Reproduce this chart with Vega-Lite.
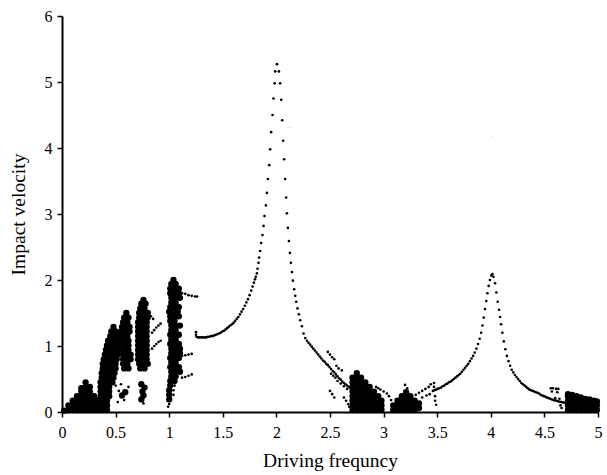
{
  "$schema": "https://vega.github.io/schema/vega-lite/v6.json",
  "width": 536,
  "height": 396,
  "autosize": {"type": "none"},
  "padding": {"left": 62, "top": 16, "right": 9, "bottom": 63},
  "background": "white",
  "config": {"view": {"stroke": null}},
  "data": {"values": [
    {"f":0.02,"v":0.02,"k":"c"},
    {"f":0.06,"v":0.03,"k":"c"},{"f":0.06,"v":0.10,"k":"c"},
    {"f":0.10,"v":0.03,"k":"c"},{"f":0.10,"v":0.10,"k":"c"},{"f":0.10,"v":0.17,"k":"c"},
    {"f":0.14,"v":0.03,"k":"c"},{"f":0.14,"v":0.10,"k":"c"},{"f":0.14,"v":0.17,"k":"c"},{"f":0.14,"v":0.24,"k":"c"},
    {"f":0.18,"v":0.03,"k":"c"},{"f":0.18,"v":0.10,"k":"c"},{"f":0.18,"v":0.17,"k":"c"},{"f":0.18,"v":0.24,"k":"c"},{"f":0.18,"v":0.31,"k":"c"},{"f":0.18,"v":0.36,"k":"c"},
    {"f":0.22,"v":0.03,"k":"c"},{"f":0.22,"v":0.10,"k":"c"},{"f":0.22,"v":0.17,"k":"c"},{"f":0.22,"v":0.24,"k":"c"},{"f":0.22,"v":0.31,"k":"c"},{"f":0.22,"v":0.38,"k":"c"},{"f":0.22,"v":0.45,"k":"c"},
    {"f":0.26,"v":0.03,"k":"c"},{"f":0.26,"v":0.10,"k":"c"},{"f":0.26,"v":0.17,"k":"c"},{"f":0.26,"v":0.24,"k":"c"},{"f":0.26,"v":0.31,"k":"c"},{"f":0.26,"v":0.38,"k":"c"},
    {"f":0.30,"v":0.03,"k":"c"},{"f":0.30,"v":0.10,"k":"c"},{"f":0.30,"v":0.17,"k":"c"},{"f":0.30,"v":0.24,"k":"c"},
    {"f":0.34,"v":0.03,"k":"c"},{"f":0.34,"v":0.10,"k":"c"},{"f":0.34,"v":0.17,"k":"c"},
    {"f":0.38,"v":0.03,"k":"c"},{"f":0.38,"v":0.08,"k":"c"},

    {"f":0.42,"v":0.03,"k":"c"},{"f":0.38,"v":0.10,"k":"c"},{"f":0.42,"v":0.10,"k":"c"},
    {"f":0.38,"v":0.17,"k":"c"},{"f":0.42,"v":0.17,"k":"c"},
    {"f":0.36,"v":0.24,"k":"c"},{"f":0.40,"v":0.24,"k":"c"},{"f":0.44,"v":0.24,"k":"c"},
    {"f":0.36,"v":0.31,"k":"c"},{"f":0.40,"v":0.31,"k":"c"},{"f":0.44,"v":0.31,"k":"c"},
    {"f":0.36,"v":0.38,"k":"c"},{"f":0.40,"v":0.38,"k":"c"},{"f":0.44,"v":0.38,"k":"c"},
    {"f":0.36,"v":0.45,"k":"c"},{"f":0.40,"v":0.45,"k":"c"},{"f":0.44,"v":0.45,"k":"c"},{"f":0.47,"v":0.45,"k":"c"},
    {"f":0.37,"v":0.52,"k":"c"},{"f":0.41,"v":0.52,"k":"c"},{"f":0.45,"v":0.52,"k":"c"},{"f":0.48,"v":0.52,"k":"c"},
    {"f":0.37,"v":0.59,"k":"c"},{"f":0.41,"v":0.59,"k":"c"},{"f":0.45,"v":0.59,"k":"c"},{"f":0.49,"v":0.59,"k":"c"},
    {"f":0.38,"v":0.66,"k":"c"},{"f":0.42,"v":0.66,"k":"c"},{"f":0.46,"v":0.66,"k":"c"},{"f":0.50,"v":0.66,"k":"c"},
    {"f":0.38,"v":0.73,"k":"c"},{"f":0.42,"v":0.73,"k":"c"},{"f":0.46,"v":0.73,"k":"c"},{"f":0.50,"v":0.73,"k":"c"},
    {"f":0.39,"v":0.80,"k":"c"},{"f":0.43,"v":0.80,"k":"c"},{"f":0.47,"v":0.80,"k":"c"},{"f":0.51,"v":0.80,"k":"c"},
    {"f":0.40,"v":0.87,"k":"c"},{"f":0.44,"v":0.87,"k":"c"},{"f":0.48,"v":0.87,"k":"c"},{"f":0.52,"v":0.87,"k":"c"},
    {"f":0.41,"v":0.94,"k":"c"},{"f":0.45,"v":0.94,"k":"c"},{"f":0.49,"v":0.94,"k":"c"},{"f":0.53,"v":0.94,"k":"c"},
    {"f":0.42,"v":1.01,"k":"c"},{"f":0.46,"v":1.01,"k":"c"},{"f":0.50,"v":1.01,"k":"c"},{"f":0.54,"v":1.01,"k":"c"},
    {"f":0.43,"v":1.08,"k":"c"},{"f":0.47,"v":1.08,"k":"c"},{"f":0.51,"v":1.08,"k":"c"},{"f":0.55,"v":1.08,"k":"c"},
    {"f":0.45,"v":1.15,"k":"c"},{"f":0.49,"v":1.15,"k":"c"},{"f":0.53,"v":1.15,"k":"c"},
    {"f":0.46,"v":1.22,"k":"c"},{"f":0.50,"v":1.22,"k":"c"},
    {"f":0.48,"v":1.29,"k":"c"},

    {"f":0.58,"v":0.66,"k":"c"},{"f":0.62,"v":0.66,"k":"c"},
    {"f":0.57,"v":0.73,"k":"c"},{"f":0.61,"v":0.73,"k":"c"},
    {"f":0.57,"v":0.80,"k":"c"},{"f":0.61,"v":0.80,"k":"c"},{"f":0.64,"v":0.80,"k":"c"},
    {"f":0.57,"v":0.87,"k":"c"},{"f":0.61,"v":0.87,"k":"c"},{"f":0.64,"v":0.87,"k":"c"},
    {"f":0.58,"v":0.94,"k":"c"},{"f":0.62,"v":0.94,"k":"c"},
    {"f":0.58,"v":1.01,"k":"c"},{"f":0.62,"v":1.01,"k":"c"},
    {"f":0.58,"v":1.08,"k":"c"},{"f":0.62,"v":1.08,"k":"c"},
    {"f":0.57,"v":1.15,"k":"c"},{"f":0.61,"v":1.15,"k":"c"},
    {"f":0.55,"v":1.22,"k":"c"},{"f":0.59,"v":1.22,"k":"c"},{"f":0.63,"v":1.22,"k":"c"},
    {"f":0.56,"v":1.29,"k":"c"},{"f":0.60,"v":1.29,"k":"c"},{"f":0.63,"v":1.29,"k":"c"},
    {"f":0.57,"v":1.36,"k":"c"},{"f":0.61,"v":1.36,"k":"c"},
    {"f":0.58,"v":1.43,"k":"c"},{"f":0.62,"v":1.43,"k":"c"},
    {"f":0.60,"v":1.50,"k":"c"},

    {"f":0.50,"v":0.40,"k":"p"},{"f":0.53,"v":0.32,"k":"p"},{"f":0.56,"v":0.25,"k":"c"},{"f":0.59,"v":0.30,"k":"c"},{"f":0.58,"v":0.18,"k":"p"},{"f":0.52,"v":0.15,"k":"p"},{"f":0.62,"v":0.38,"k":"p"},{"f":0.55,"v":0.42,"k":"p"},
    {"f":0.74,"v":0.42,"k":"c"},{"f":0.77,"v":0.37,"k":"c"},{"f":0.75,"v":0.31,"k":"c"},{"f":0.76,"v":0.25,"k":"c"},{"f":0.74,"v":0.19,"k":"c"},{"f":0.76,"v":0.13,"k":"p"},

    {"f":0.73,"v":0.66,"k":"c"},{"f":0.77,"v":0.66,"k":"c"},
    {"f":0.72,"v":0.73,"k":"c"},{"f":0.76,"v":0.73,"k":"c"},{"f":0.80,"v":0.73,"k":"c"},
    {"f":0.71,"v":0.80,"k":"c"},{"f":0.75,"v":0.80,"k":"c"},{"f":0.79,"v":0.80,"k":"c"},
    {"f":0.71,"v":0.87,"k":"c"},{"f":0.75,"v":0.87,"k":"c"},{"f":0.79,"v":0.87,"k":"c"},
    {"f":0.71,"v":0.94,"k":"c"},{"f":0.75,"v":0.94,"k":"c"},{"f":0.79,"v":0.94,"k":"c"},
    {"f":0.71,"v":1.01,"k":"c"},{"f":0.75,"v":1.01,"k":"c"},{"f":0.79,"v":1.01,"k":"c"},
    {"f":0.71,"v":1.08,"k":"c"},{"f":0.75,"v":1.08,"k":"c"},{"f":0.79,"v":1.08,"k":"c"},
    {"f":0.71,"v":1.15,"k":"c"},{"f":0.75,"v":1.15,"k":"c"},{"f":0.79,"v":1.15,"k":"c"},
    {"f":0.71,"v":1.22,"k":"c"},{"f":0.75,"v":1.22,"k":"c"},{"f":0.79,"v":1.22,"k":"c"},
    {"f":0.71,"v":1.29,"k":"c"},{"f":0.75,"v":1.29,"k":"c"},{"f":0.79,"v":1.29,"k":"c"},
    {"f":0.71,"v":1.36,"k":"c"},{"f":0.75,"v":1.36,"k":"c"},{"f":0.79,"v":1.36,"k":"c"},
    {"f":0.72,"v":1.43,"k":"c"},{"f":0.76,"v":1.43,"k":"c"},{"f":0.80,"v":1.43,"k":"c"},
    {"f":0.72,"v":1.50,"k":"c"},{"f":0.76,"v":1.50,"k":"c"},{"f":0.80,"v":1.50,"k":"c"},
    {"f":0.73,"v":1.57,"k":"c"},{"f":0.77,"v":1.57,"k":"c"},
    {"f":0.74,"v":1.64,"k":"c"},{"f":0.78,"v":1.64,"k":"c"},
    {"f":0.76,"v":1.70,"k":"c"},

    {"f":0.84,"v":1.20,"k":"p"},{"f":0.86,"v":1.24,"k":"p"},{"f":0.88,"v":1.28,"k":"p"},{"f":0.90,"v":1.31,"k":"p"},{"f":0.92,"v":1.34,"k":"p"},
    {"f":0.84,"v":0.96,"k":"p"},{"f":0.86,"v":1.00,"k":"p"},{"f":0.88,"v":1.03,"k":"p"},{"f":0.90,"v":1.06,"k":"p"},{"f":0.92,"v":1.08,"k":"p"},
    {"f":0.83,"v":1.45,"k":"p"},{"f":0.85,"v":1.41,"k":"p"},

    {"f":1.04,"v":2.00,"k":"c"},
    {"f":1.02,"v":1.94,"k":"c"},{"f":1.06,"v":1.94,"k":"c"},
    {"f":1.01,"v":1.87,"k":"c"},{"f":1.05,"v":1.87,"k":"c"},{"f":1.09,"v":1.87,"k":"c"},
    {"f":1.01,"v":1.80,"k":"c"},{"f":1.05,"v":1.80,"k":"c"},{"f":1.09,"v":1.80,"k":"c"},
    {"f":1.02,"v":1.73,"k":"c"},{"f":1.06,"v":1.73,"k":"c"},{"f":1.10,"v":1.73,"k":"c"},
    {"f":1.02,"v":1.66,"k":"c"},{"f":1.06,"v":1.66,"k":"c"},
    {"f":1.01,"v":1.59,"k":"c"},{"f":1.05,"v":1.59,"k":"c"},{"f":1.09,"v":1.59,"k":"c"},
    {"f":1.00,"v":1.52,"k":"c"},{"f":1.04,"v":1.52,"k":"c"},{"f":1.08,"v":1.52,"k":"c"},
    {"f":1.01,"v":1.45,"k":"c"},{"f":1.05,"v":1.45,"k":"c"},{"f":1.09,"v":1.45,"k":"c"},
    {"f":1.01,"v":1.38,"k":"c"},{"f":1.05,"v":1.38,"k":"c"},
    {"f":1.02,"v":1.31,"k":"c"},{"f":1.06,"v":1.31,"k":"c"},{"f":1.10,"v":1.31,"k":"c"},
    {"f":1.02,"v":1.24,"k":"c"},{"f":1.06,"v":1.24,"k":"c"},
    {"f":1.01,"v":1.17,"k":"c"},{"f":1.05,"v":1.17,"k":"c"},{"f":1.09,"v":1.17,"k":"c"},
    {"f":1.02,"v":1.10,"k":"c"},{"f":1.06,"v":1.10,"k":"c"},
    {"f":1.01,"v":1.03,"k":"c"},{"f":1.05,"v":1.03,"k":"c"},{"f":1.09,"v":1.03,"k":"c"},
    {"f":1.02,"v":0.96,"k":"c"},{"f":1.06,"v":0.96,"k":"c"},{"f":1.10,"v":0.96,"k":"c"},
    {"f":1.02,"v":0.89,"k":"c"},{"f":1.06,"v":0.89,"k":"c"},{"f":1.10,"v":0.89,"k":"c"},
    {"f":1.01,"v":0.82,"k":"c"},{"f":1.05,"v":0.82,"k":"c"},{"f":1.09,"v":0.82,"k":"c"},
    {"f":1.02,"v":0.75,"k":"c"},{"f":1.06,"v":0.75,"k":"c"},
    {"f":1.01,"v":0.68,"k":"c"},{"f":1.05,"v":0.68,"k":"c"},{"f":1.09,"v":0.68,"k":"c"},
    {"f":1.02,"v":0.61,"k":"c"},{"f":1.06,"v":0.61,"k":"c"},{"f":1.10,"v":0.61,"k":"c"},
    {"f":1.02,"v":0.54,"k":"c"},{"f":1.06,"v":0.54,"k":"c"},
    {"f":1.01,"v":0.47,"k":"c"},{"f":1.05,"v":0.47,"k":"c"},
    {"f":1.01,"v":0.40,"k":"c"},{"f":1.05,"v":0.40,"k":"p"},
    {"f":1.00,"v":0.33,"k":"c"},{"f":1.04,"v":0.33,"k":"p"},
    {"f":1.00,"v":0.26,"k":"c"},{"f":1.04,"v":0.26,"k":"p"},
    {"f":1.00,"v":0.19,"k":"c"},
    {"f":1.00,"v":0.12,"k":"p"},{"f":0.99,"v":0.08,"k":"p"},
    {"f":1.12,"v":1.80,"k":"p"},{"f":1.15,"v":1.79,"k":"p"},{"f":1.18,"v":1.77,"k":"p"},{"f":1.21,"v":1.76,"k":"p"},{"f":1.24,"v":1.75,"k":"p"},{"f":1.26,"v":1.75,"k":"p"},
    {"f":1.12,"v":0.85,"k":"p"},{"f":1.15,"v":0.86,"k":"p"},{"f":1.18,"v":0.87,"k":"p"},{"f":1.21,"v":0.88,"k":"p"},
    {"f":1.12,"v":0.52,"k":"p"},{"f":1.15,"v":0.53,"k":"p"},{"f":1.18,"v":0.55,"k":"p"},{"f":1.21,"v":0.57,"k":"p"},

    {"f":1.250,"v":1.21,"k":"p"},{"f":1.250,"v":1.17,"k":"p"},{"f":1.255,"v":1.14,"k":"p"},{"f":1.270,"v":1.13,"k":"p"},{"f":1.285,"v":1.13,"k":"p"},{"f":1.300,"v":1.13,"k":"p"},{"f":1.315,"v":1.13,"k":"p"},{"f":1.330,"v":1.13,"k":"p"},{"f":1.345,"v":1.13,"k":"p"},{"f":1.360,"v":1.14,"k":"p"},{"f":1.375,"v":1.14,"k":"p"},{"f":1.390,"v":1.15,"k":"p"},{"f":1.405,"v":1.15,"k":"p"},{"f":1.420,"v":1.16,"k":"p"},{"f":1.435,"v":1.17,"k":"p"},{"f":1.450,"v":1.18,"k":"p"},{"f":1.465,"v":1.19,"k":"p"},{"f":1.480,"v":1.20,"k":"p"},{"f":1.495,"v":1.22,"k":"p"},{"f":1.510,"v":1.23,"k":"p"},{"f":1.525,"v":1.25,"k":"p"},{"f":1.540,"v":1.27,"k":"p"},{"f":1.555,"v":1.29,"k":"p"},{"f":1.570,"v":1.31,"k":"p"},{"f":1.585,"v":1.33,"k":"p"},{"f":1.600,"v":1.35,"k":"p"},{"f":1.615,"v":1.38,"k":"p"},{"f":1.630,"v":1.41,"k":"p"},{"f":1.645,"v":1.44,"k":"p"},{"f":1.660,"v":1.48,"k":"p"},{"f":1.675,"v":1.52,"k":"p"},{"f":1.690,"v":1.56,"k":"p"},{"f":1.705,"v":1.61,"k":"p"},{"f":1.720,"v":1.66,"k":"p"},{"f":1.735,"v":1.71,"k":"p"},{"f":1.750,"v":1.77,"k":"p"},{"f":1.765,"v":1.84,"k":"p"},{"f":1.778,"v":1.90,"k":"p"},{"f":1.790,"v":1.96,"k":"p"},{"f":1.800,"v":2.01,"k":"p"},{"f":1.808,"v":2.05,"k":"p"},
    {"f":1.818,"v":2.10,"k":"p"},{"f":1.824,"v":2.17,"k":"p"},{"f":1.833,"v":2.26,"k":"p"},{"f":1.839,"v":2.34,"k":"p"},{"f":1.849,"v":2.44,"k":"p"},{"f":1.858,"v":2.56,"k":"p"},{"f":1.870,"v":2.68,"k":"p"},{"f":1.880,"v":2.82,"k":"p"},{"f":1.889,"v":2.97,"k":"p"},{"f":1.902,"v":3.13,"k":"p"},{"f":1.911,"v":3.32,"k":"p"},{"f":1.920,"v":3.53,"k":"p"},{"f":1.933,"v":3.74,"k":"p"},{"f":1.942,"v":3.98,"k":"p"},{"f":1.951,"v":4.24,"k":"p"},{"f":1.964,"v":4.50,"k":"p"},{"f":1.973,"v":4.75,"k":"p"},{"f":1.983,"v":4.98,"k":"p"},{"f":1.989,"v":5.16,"k":"p"},{"f":2.005,"v":5.27,"k":"p"},{"f":2.023,"v":5.16,"k":"p"},{"f":2.035,"v":4.98,"k":"p"},{"f":2.045,"v":4.73,"k":"p"},{"f":2.054,"v":4.42,"k":"p"},{"f":2.063,"v":4.11,"k":"p"},{"f":2.073,"v":3.83,"k":"p"},{"f":2.082,"v":3.53,"k":"p"},{"f":2.091,"v":3.25,"k":"p"},{"f":2.098,"v":3.01,"k":"p"},{"f":2.107,"v":2.79,"k":"p"},{"f":2.117,"v":2.59,"k":"p"},{"f":2.126,"v":2.41,"k":"p"},{"f":2.135,"v":2.26,"k":"p"},{"f":2.145,"v":2.12,"k":"p"},{"f":2.154,"v":1.99,"k":"p"},{"f":2.166,"v":1.86,"k":"p"},{"f":2.176,"v":1.76,"k":"p"},{"f":2.185,"v":1.67,"k":"p"},{"f":2.197,"v":1.57,"k":"p"},{"f":2.210,"v":1.48,"k":"p"},{"f":2.222,"v":1.39,"k":"p"},{"f":2.238,"v":1.30,"k":"p"},{"f":2.253,"v":1.19,"k":"p"},{"f":2.269,"v":1.12,"k":"p"},
    {"f":2.285,"v":1.08,"k":"p"},{"f":2.300,"v":1.05,"k":"p"},{"f":2.315,"v":1.02,"k":"p"},{"f":2.330,"v":0.99,"k":"p"},{"f":2.345,"v":0.96,"k":"p"},{"f":2.360,"v":0.93,"k":"p"},{"f":2.375,"v":0.90,"k":"p"},{"f":2.390,"v":0.87,"k":"p"},{"f":2.405,"v":0.84,"k":"p"},{"f":2.420,"v":0.81,"k":"p"},{"f":2.435,"v":0.78,"k":"p"},{"f":2.450,"v":0.76,"k":"p"},{"f":2.465,"v":0.73,"k":"p"},{"f":2.480,"v":0.71,"k":"p"},{"f":2.495,"v":0.68,"k":"p"},{"f":2.510,"v":0.65,"k":"p"},{"f":2.525,"v":0.62,"k":"p"},{"f":2.540,"v":0.60,"k":"p"},{"f":2.555,"v":0.57,"k":"p"},{"f":2.570,"v":0.54,"k":"p"},{"f":2.585,"v":0.51,"k":"p"},{"f":2.600,"v":0.49,"k":"p"},{"f":2.615,"v":0.46,"k":"p"},{"f":2.630,"v":0.44,"k":"p"},{"f":2.645,"v":0.42,"k":"p"},{"f":2.660,"v":0.40,"k":"p"},{"f":2.675,"v":0.38,"k":"p"},{"f":2.690,"v":0.36,"k":"p"},

    {"f":2.48,"v":0.91,"k":"p"},{"f":2.50,"v":0.87,"k":"p"},{"f":2.52,"v":0.83,"k":"p"},{"f":2.54,"v":0.80,"k":"p"},
    {"f":2.56,"v":0.70,"k":"p"},{"f":2.58,"v":0.66,"k":"p"},{"f":2.61,"v":0.63,"k":"p"},
    {"f":2.51,"v":0.58,"k":"p"},{"f":2.53,"v":0.55,"k":"p"},{"f":2.55,"v":0.52,"k":"p"},
    {"f":2.57,"v":0.47,"k":"p"},{"f":2.60,"v":0.43,"k":"p"},{"f":2.63,"v":0.39,"k":"p"},{"f":2.66,"v":0.35,"k":"p"},
    {"f":2.50,"v":0.32,"k":"p"},{"f":2.52,"v":0.27,"k":"p"},{"f":2.54,"v":0.22,"k":"p"},
    {"f":2.63,"v":0.22,"k":"p"},{"f":2.65,"v":0.17,"k":"p"},{"f":2.67,"v":0.12,"k":"p"},{"f":2.68,"v":0.08,"k":"p"},

    {"f":2.71,"v":0.03,"k":"c"},{"f":2.71,"v":0.10,"k":"c"},{"f":2.71,"v":0.17,"k":"c"},{"f":2.71,"v":0.24,"k":"c"},{"f":2.71,"v":0.31,"k":"c"},{"f":2.71,"v":0.38,"k":"c"},{"f":2.71,"v":0.45,"k":"c"},{"f":2.71,"v":0.52,"k":"c"},
    {"f":2.75,"v":0.03,"k":"c"},{"f":2.75,"v":0.10,"k":"c"},{"f":2.75,"v":0.17,"k":"c"},{"f":2.75,"v":0.24,"k":"c"},{"f":2.75,"v":0.31,"k":"c"},{"f":2.75,"v":0.38,"k":"c"},{"f":2.75,"v":0.45,"k":"c"},{"f":2.75,"v":0.52,"k":"c"},{"f":2.75,"v":0.59,"k":"c"},
    {"f":2.79,"v":0.03,"k":"c"},{"f":2.79,"v":0.10,"k":"c"},{"f":2.79,"v":0.17,"k":"c"},{"f":2.79,"v":0.24,"k":"c"},{"f":2.79,"v":0.31,"k":"c"},{"f":2.79,"v":0.38,"k":"c"},{"f":2.79,"v":0.45,"k":"c"},{"f":2.79,"v":0.52,"k":"c"},
    {"f":2.83,"v":0.03,"k":"c"},{"f":2.83,"v":0.10,"k":"c"},{"f":2.83,"v":0.17,"k":"c"},{"f":2.83,"v":0.24,"k":"c"},{"f":2.83,"v":0.31,"k":"c"},{"f":2.83,"v":0.38,"k":"c"},{"f":2.83,"v":0.45,"k":"c"},
    {"f":2.87,"v":0.03,"k":"c"},{"f":2.87,"v":0.10,"k":"c"},{"f":2.87,"v":0.17,"k":"c"},{"f":2.87,"v":0.24,"k":"c"},{"f":2.87,"v":0.31,"k":"c"},{"f":2.87,"v":0.38,"k":"c"},
    {"f":2.91,"v":0.03,"k":"c"},{"f":2.91,"v":0.10,"k":"c"},{"f":2.91,"v":0.17,"k":"c"},{"f":2.91,"v":0.24,"k":"c"},{"f":2.91,"v":0.31,"k":"c"},
    {"f":2.95,"v":0.03,"k":"c"},{"f":2.95,"v":0.10,"k":"c"},{"f":2.95,"v":0.17,"k":"c"},{"f":2.95,"v":0.24,"k":"c"},
    {"f":2.98,"v":0.03,"k":"c"},{"f":2.98,"v":0.10,"k":"c"},{"f":2.98,"v":0.17,"k":"c"},
    {"f":2.93,"v":0.38,"k":"p"},{"f":2.95,"v":0.36,"k":"p"},{"f":2.97,"v":0.34,"k":"p"},{"f":3.00,"v":0.31,"k":"p"},{"f":3.03,"v":0.28,"k":"p"},{"f":3.05,"v":0.24,"k":"p"},{"f":3.07,"v":0.18,"k":"p"},{"f":3.08,"v":0.12,"k":"p"},

    {"f":3.09,"v":0.03,"k":"c"},{"f":3.09,"v":0.10,"k":"c"},
    {"f":3.13,"v":0.03,"k":"c"},{"f":3.13,"v":0.10,"k":"c"},{"f":3.13,"v":0.17,"k":"c"},
    {"f":3.17,"v":0.03,"k":"c"},{"f":3.17,"v":0.10,"k":"c"},{"f":3.17,"v":0.17,"k":"c"},{"f":3.17,"v":0.24,"k":"c"},
    {"f":3.21,"v":0.03,"k":"c"},{"f":3.21,"v":0.10,"k":"c"},{"f":3.21,"v":0.17,"k":"c"},{"f":3.21,"v":0.24,"k":"c"},{"f":3.21,"v":0.30,"k":"c"},
    {"f":3.25,"v":0.03,"k":"c"},{"f":3.25,"v":0.10,"k":"c"},{"f":3.25,"v":0.17,"k":"c"},{"f":3.25,"v":0.24,"k":"c"},
    {"f":3.29,"v":0.03,"k":"c"},{"f":3.29,"v":0.10,"k":"c"},{"f":3.29,"v":0.17,"k":"c"},
    {"f":3.33,"v":0.06,"k":"c"},{"f":3.33,"v":0.13,"k":"c"},
    {"f":3.22,"v":0.36,"k":"p"},{"f":3.20,"v":0.41,"k":"p"},{"f":3.30,"v":0.26,"k":"p"},{"f":3.33,"v":0.29,"k":"p"},{"f":3.36,"v":0.32,"k":"p"},{"f":3.39,"v":0.35,"k":"p"},{"f":3.42,"v":0.38,"k":"p"},{"f":3.44,"v":0.42,"k":"p"},{"f":3.36,"v":0.22,"k":"p"},{"f":3.40,"v":0.25,"k":"p"},{"f":3.43,"v":0.27,"k":"p"},
    {"f":3.47,"v":0.44,"k":"p"},{"f":3.47,"v":0.38,"k":"p"},{"f":3.48,"v":0.24,"k":"p"},{"f":3.48,"v":0.17,"k":"p"},{"f":3.49,"v":0.11,"k":"p"},

    {"f":3.460,"v":0.32,"k":"p"},{"f":3.475,"v":0.33,"k":"p"},{"f":3.490,"v":0.34,"k":"p"},{"f":3.505,"v":0.35,"k":"p"},{"f":3.520,"v":0.36,"k":"p"},{"f":3.535,"v":0.37,"k":"p"},{"f":3.550,"v":0.39,"k":"p"},{"f":3.565,"v":0.40,"k":"p"},{"f":3.580,"v":0.42,"k":"p"},{"f":3.595,"v":0.43,"k":"p"},{"f":3.610,"v":0.45,"k":"p"},{"f":3.625,"v":0.46,"k":"p"},{"f":3.640,"v":0.48,"k":"p"},{"f":3.655,"v":0.50,"k":"p"},{"f":3.670,"v":0.52,"k":"p"},{"f":3.685,"v":0.54,"k":"p"},{"f":3.700,"v":0.56,"k":"p"},{"f":3.715,"v":0.58,"k":"p"},{"f":3.730,"v":0.61,"k":"p"},{"f":3.745,"v":0.64,"k":"p"},{"f":3.760,"v":0.67,"k":"p"},{"f":3.775,"v":0.70,"k":"p"},{"f":3.790,"v":0.73,"k":"p"},{"f":3.805,"v":0.77,"k":"p"},{"f":3.820,"v":0.81,"k":"p"},{"f":3.835,"v":0.85,"k":"p"},
    {"f":3.850,"v":0.90,"k":"p"},{"f":3.866,"v":0.96,"k":"p"},{"f":3.881,"v":1.03,"k":"p"},{"f":3.896,"v":1.11,"k":"p"},{"f":3.910,"v":1.20,"k":"p"},{"f":3.922,"v":1.31,"k":"p"},{"f":3.934,"v":1.43,"k":"p"},{"f":3.946,"v":1.56,"k":"p"},{"f":3.958,"v":1.68,"k":"p"},{"f":3.968,"v":1.80,"k":"p"},{"f":3.980,"v":1.91,"k":"p"},{"f":3.992,"v":2.00,"k":"p"},{"f":4.005,"v":2.07,"k":"p"},{"f":4.015,"v":2.09,"k":"p"},{"f":4.025,"v":2.05,"k":"p"},{"f":4.040,"v":1.95,"k":"p"},{"f":4.052,"v":1.81,"k":"p"},{"f":4.064,"v":1.67,"k":"p"},{"f":4.077,"v":1.55,"k":"p"},{"f":4.087,"v":1.44,"k":"p"},{"f":4.096,"v":1.33,"k":"p"},{"f":4.108,"v":1.20,"k":"p"},{"f":4.121,"v":1.07,"k":"p"},{"f":4.136,"v":0.95,"k":"p"},{"f":4.150,"v":0.85,"k":"p"},{"f":4.165,"v":0.77,"k":"p"},{"f":4.180,"v":0.70,"k":"p"},
    {"f":4.195,"v":0.64,"k":"p"},{"f":4.210,"v":0.60,"k":"p"},{"f":4.225,"v":0.56,"k":"p"},{"f":4.240,"v":0.53,"k":"p"},{"f":4.255,"v":0.50,"k":"p"},{"f":4.270,"v":0.47,"k":"p"},{"f":4.285,"v":0.44,"k":"p"},{"f":4.300,"v":0.42,"k":"p"},{"f":4.315,"v":0.40,"k":"p"},{"f":4.330,"v":0.38,"k":"p"},{"f":4.345,"v":0.36,"k":"p"},{"f":4.360,"v":0.34,"k":"p"},{"f":4.375,"v":0.33,"k":"p"},{"f":4.390,"v":0.32,"k":"p"},{"f":4.405,"v":0.31,"k":"p"},{"f":4.420,"v":0.30,"k":"p"},{"f":4.435,"v":0.29,"k":"p"},{"f":4.450,"v":0.28,"k":"p"},{"f":4.465,"v":0.26,"k":"p"},{"f":4.480,"v":0.25,"k":"p"},{"f":4.495,"v":0.24,"k":"p"},{"f":4.510,"v":0.23,"k":"p"},{"f":4.525,"v":0.22,"k":"p"},{"f":4.540,"v":0.21,"k":"p"},{"f":4.555,"v":0.20,"k":"p"},{"f":4.570,"v":0.19,"k":"p"},{"f":4.585,"v":0.18,"k":"p"},{"f":4.600,"v":0.175,"k":"p"},{"f":4.615,"v":0.17,"k":"p"},{"f":4.630,"v":0.16,"k":"p"},{"f":4.645,"v":0.155,"k":"p"},{"f":4.660,"v":0.15,"k":"p"},{"f":4.675,"v":0.145,"k":"p"},{"f":4.690,"v":0.14,"k":"p"},{"f":4.705,"v":0.135,"k":"p"},

    {"f":4.56,"v":0.36,"k":"p"},{"f":4.58,"v":0.36,"k":"p"},{"f":4.61,"v":0.35,"k":"p"},{"f":4.63,"v":0.35,"k":"p"},{"f":4.57,"v":0.31,"k":"p"},{"f":4.62,"v":0.30,"k":"p"},
    {"f":4.60,"v":0.21,"k":"p"},{"f":4.64,"v":0.20,"k":"p"},{"f":4.65,"v":0.10,"k":"p"},{"f":4.66,"v":0.06,"k":"p"},

    {"f":4.72,"v":0.03,"k":"c"},{"f":4.72,"v":0.10,"k":"c"},{"f":4.72,"v":0.17,"k":"c"},{"f":4.72,"v":0.24,"k":"c"},{"f":4.72,"v":0.27,"k":"c"},
    {"f":4.76,"v":0.03,"k":"c"},{"f":4.76,"v":0.10,"k":"c"},{"f":4.76,"v":0.17,"k":"c"},{"f":4.76,"v":0.24,"k":"c"},{"f":4.76,"v":0.26,"k":"c"},
    {"f":4.80,"v":0.03,"k":"c"},{"f":4.80,"v":0.10,"k":"c"},{"f":4.80,"v":0.17,"k":"c"},{"f":4.80,"v":0.24,"k":"c"},
    {"f":4.84,"v":0.03,"k":"c"},{"f":4.84,"v":0.10,"k":"c"},{"f":4.84,"v":0.17,"k":"c"},{"f":4.84,"v":0.22,"k":"c"},
    {"f":4.88,"v":0.03,"k":"c"},{"f":4.88,"v":0.10,"k":"c"},{"f":4.88,"v":0.17,"k":"c"},{"f":4.88,"v":0.20,"k":"c"},
    {"f":4.92,"v":0.03,"k":"c"},{"f":4.92,"v":0.10,"k":"c"},{"f":4.92,"v":0.17,"k":"c"},{"f":4.92,"v":0.19,"k":"c"},
    {"f":4.96,"v":0.03,"k":"c"},{"f":4.96,"v":0.10,"k":"c"},{"f":4.96,"v":0.17,"k":"c"},
    {"f":4.99,"v":0.03,"k":"c"},{"f":4.99,"v":0.10,"k":"c"},{"f":4.99,"v":0.16,"k":"c"},

    {"f":2.12,"v":4.31,"k":"t"},{"f":4.005,"v":4.17,"k":"t"}
  ]},
  "encoding": {
    "x": {
      "field": "f", "type": "quantitative",
      "scale": {"domain": [0, 5], "nice": false, "zero": false},
      "axis": {
        "title": "Driving frequncy",
        "values": [0, 0.5, 1, 1.5, 2, 2.5, 3, 3.5, 4, 4.5, 5],
        "format": "~g",
        "grid": false,
        "domainColor": "black", "domainWidth": 2,
        "tickColor": "black", "tickWidth": 1.5, "tickSize": 5,
        "labelFont": "Liberation Serif", "labelFontSize": 16, "labelColor": "black", "labelPadding": 7,
        "labelFlush": false,
        "titleFont": "Liberation Serif", "titleFontSize": 19.5, "titleFontWeight": "normal", "titleColor": "black", "titlePadding": 11
      }
    },
    "y": {
      "field": "v", "type": "quantitative",
      "scale": {"domain": [0, 6], "nice": false},
      "axis": {
        "title": "Impact velocity",
        "values": [0, 1, 2, 3, 4, 5, 6],
        "format": "d",
        "grid": false,
        "domainColor": "black", "domainWidth": 2,
        "tickColor": "black", "tickWidth": 1.5, "tickSize": 5,
        "labelFont": "Liberation Serif", "labelFontSize": 16, "labelColor": "black", "labelPadding": 5,
        "labelFlush": false,
        "titleFont": "Liberation Serif", "titleFontSize": 19.5, "titleFontWeight": "normal", "titleColor": "black", "titlePadding": 16
      }
    }
  },
  "layer": [
    {
      "transform": [{"filter": "datum.k === 'c'"}],
      "mark": {"type": "circle", "size": 40, "color": "black", "opacity": 1}
    },
    {
      "transform": [{"filter": "datum.k === 'p'"}],
      "mark": {"type": "circle", "size": 7, "color": "black", "opacity": 1}
    },
    {
      "transform": [{"filter": "datum.k === 't'"}],
      "mark": {"type": "circle", "size": 1.5, "color": "#c8c8c8", "opacity": 1}
    }
  ]
}
